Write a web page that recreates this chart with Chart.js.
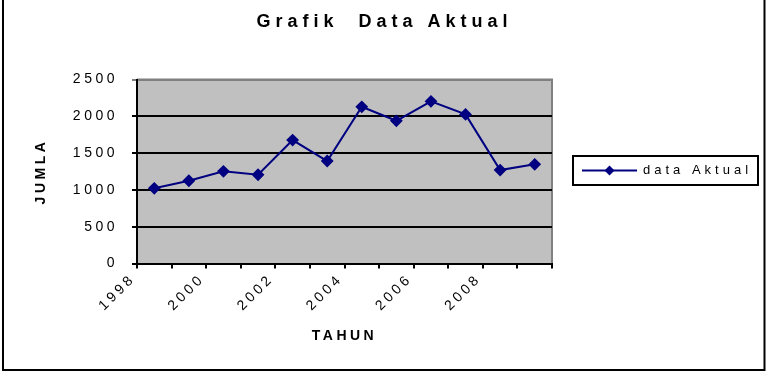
<!DOCTYPE html>
<html>
<head>
<meta charset="utf-8">
<script src="https://cdn.jsdelivr.net/npm/chart.js@4"></script>
<style>
  body { margin: 0; background: #fff; }
  #wrap { width: 769px; height: 372px; }
</style>
</head>
<body>
<div id="wrap"><canvas id="myChart" width="769" height="372"></canvas></div>
<script>
// data
const tahun = ['1998', '1999', '2000', '2001', '2002', '2003', '2004', '2005', '2006', '2007', '2008', '2009'];
const dataAktual = [1022, 1125, 1253, 1207, 1678, 1393, 2130, 1940, 2204, 2027, 1270, 1348];
const tahunLabels = ['1998', '2000', '2002', '2004', '2006', '2008'];
const seriesName = 'data Aktual';

const FONT = "'Liberation Sans', Arial, sans-serif";
const NAVY = '#000080';

// Excel style spaced out text
const spacing = {
  id: 'spacing',
  beforeLayout(chart) { chart.ctx.letterSpacing = '3.5px'; },
  beforeDraw(chart) { chart.ctx.letterSpacing = '3.5px'; },
  afterLayout(chart) {
    // title gets wider spacing than the rest
    const tb = chart.titleBlock;
    if (tb && !tb._spaced) {
      const draw = tb.draw;
      tb.draw = function () {
        const c = this.ctx;
        c.save();
        c.letterSpacing = '5px';
        draw.apply(this, arguments);
        c.restore();
      };
      tb._spaced = true;
    }
  }
};

const plotBg = {
  id: 'plotBg',
  beforeDraw(chart) {
    const { ctx, chartArea: a } = chart;
    ctx.save();
    ctx.fillStyle = '#c0c0c0';
    ctx.fillRect(a.left, a.top, a.right - a.left, a.bottom - a.top);
    ctx.strokeStyle = '#808080';
    ctx.lineWidth = 2;
    ctx.beginPath();
    ctx.moveTo(a.left, a.top);
    ctx.lineTo(a.right, a.top);
    ctx.lineTo(a.right, a.bottom);
    ctx.stroke();
    ctx.restore();
  }
};

const boxLegend = {
  id: 'boxLegend',
  afterDraw(chart) {
    const { ctx, chartArea: a } = chart;
    const x = a.right + 21, y = 156, w = 185, h = 29;
    const cy = y + h / 2;
    ctx.save();
    ctx.strokeStyle = '#000';
    ctx.lineWidth = 2;
    ctx.strokeRect(x, y, w, h);
    ctx.strokeStyle = NAVY;
    ctx.lineWidth = 2;
    ctx.beginPath();
    ctx.moveTo(x + 9, cy);
    ctx.lineTo(x + 64, cy);
    ctx.stroke();
    ctx.fillStyle = NAVY;
    ctx.beginPath();
    ctx.moveTo(x + 36.5, cy - 5);
    ctx.lineTo(x + 41.5, cy);
    ctx.lineTo(x + 36.5, cy + 5);
    ctx.lineTo(x + 31.5, cy);
    ctx.closePath();
    ctx.fill();
    ctx.fillStyle = '#000';
    ctx.font = '13px ' + FONT;
    ctx.letterSpacing = '4px';
    ctx.textBaseline = 'middle';
    ctx.fillText(chart.data.datasets[0].label, x + 70, cy);
    // outer frame
    ctx.lineWidth = 2;
    ctx.strokeStyle = '#000';
    ctx.beginPath();
    ctx.moveTo(3, -5);
    ctx.lineTo(3, 370);
    ctx.lineTo(764.5, 370);
    ctx.lineTo(764.5, -5);
    ctx.stroke();
    ctx.restore();
  }
};

const config = {
  type: 'line',
  data: {
    labels: tahun,
    datasets: [{
      label: seriesName,
      data: dataAktual,
      yAxisID: 'y',
      borderColor: NAVY,
      backgroundColor: NAVY,
      borderWidth: 2,
      pointStyle: 'rectRot',
      pointRadius: 5,
      pointHoverRadius: 5,
      tension: 0
    }]
  },
  options: {
    responsive: false,
    animation: false,
    events: [],
    layout: { padding: 0 },
    plugins: {
      legend: { display: false },
      tooltip: { enabled: false },
      title: {
        display: true,
        text: 'Grafik  Data Aktual',
        color: '#000',
        font: { family: FONT, size: 18, weight: 'bold' },
        padding: { top: 11, bottom: 47 }
      }
    },
    scales: {
      x: {
        offset: true,
        afterFit(scale) { scale.height = 108.5; },
        grid: {
          offset: true,
          drawOnChartArea: false,
          drawTicks: true,
          tickLength: 5,
          color: '#000',
          lineWidth: 2
        },
        border: { color: '#000', width: 2 },
        ticks: {
          autoSkip: false,
          maxRotation: 45,
          minRotation: 45,
          labelOffset: -21,
          padding: 2,
          color: '#000',
          font: { family: FONT, size: 14 },
          callback(value) {
            const lbl = this.getLabelForValue(value);
            return tahunLabels.includes(lbl) ? lbl : '';
          }
        },
        title: {
          display: true,
          text: 'TAHUN',
          color: '#000',
          font: { family: FONT, size: 14, weight: 'bold' },
          padding: { bottom: 27.6 }
        }
      },
      y: {
        min: 0,
        max: 2500,
        afterFit(scale) { scale.width = 137; },
        grid: {
          tickLength: 5,
          lineWidth: 2,
          color: (c) => (c.tick && c.tick.value === 2500 ? '#808080' : '#000')
        },
        border: { color: '#000', width: 2 },
        ticks: {
          stepSize: 500,
          padding: 14,
          color: '#000',
          font: { family: FONT, size: 14 },
          callback: (v) => String(v)
        },
        title: {
          display: true,
          text: 'JUMLA',
          color: '#000',
          font: { family: FONT, size: 14, weight: 'bold' },
          padding: { top: 33 }
        }
      },
      // empty space on the right that holds the legend box
      legendSpace: {
        type: 'linear',
        position: 'right',
        afterFit(scale) { scale.width = 217; },
        grid: { display: false },
        border: { display: false },
        ticks: { display: false }
      }
    }
  },
  plugins: [spacing, plotBg, boxLegend]
};

const myChart = new Chart(document.getElementById('myChart'), config);
</script>
</body>
</html>
